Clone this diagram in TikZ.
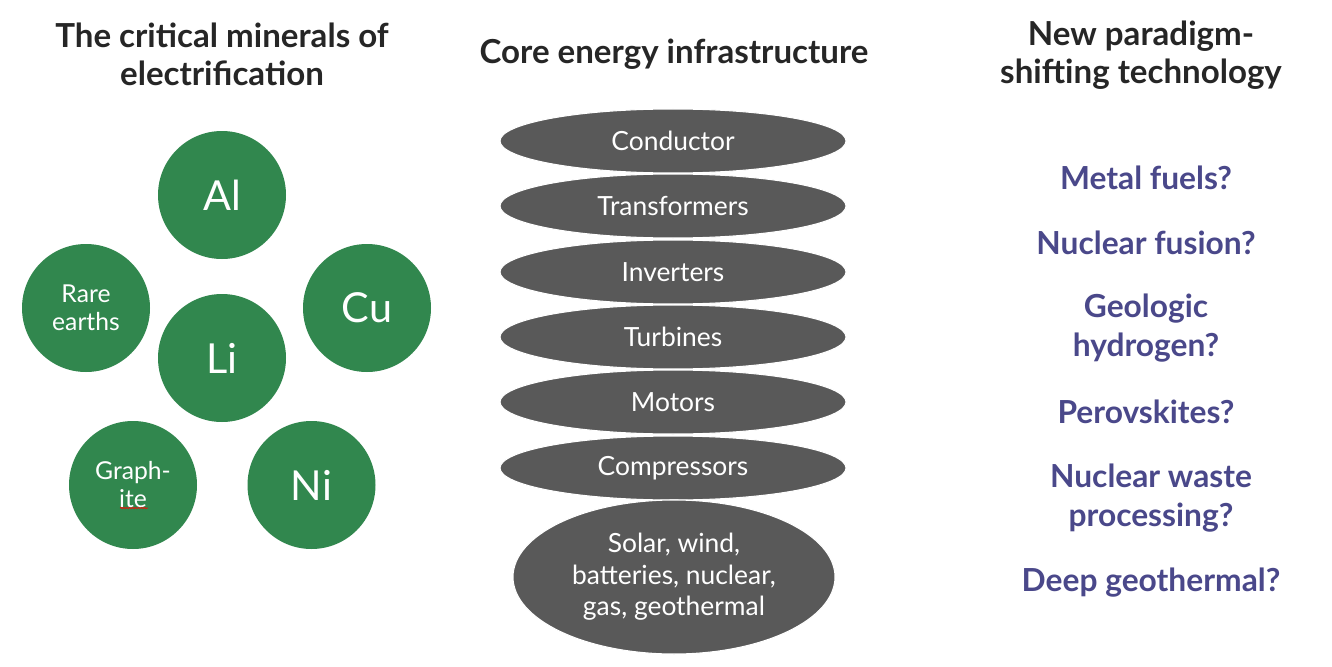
\documentclass[tikz,border=0pt]{standalone}
\usepackage{fontspec}
\setmainfont{Lato}
\usetikzlibrary{shapes.geometric,decorations.pathmorphing}
\definecolor{mingreen}{RGB}{49,135,78}
\definecolor{infragray}{RGB}{89,89,89}
\definecolor{techpurple}{RGB}{74,72,138}
\definecolor{headdark}{RGB}{38,38,38}
\tikzset{
  heading/.style={text=headdark, align=center, font=\bfseries\fontsize{24.8}{28.5}\selectfont, inner sep=0pt},
  mineral/.style={circle, fill=mingreen, minimum size=96pt, inner sep=0pt, text=white, align=center},
  bigsym/.style={mineral, font=\fontsize{31}{36}\selectfont},
  smallsym/.style={mineral, font=\fontsize{18.5}{21}\selectfont},
  infra/.style={ellipse, fill=infragray, draw=white, line width=0.8pt, minimum width=259.5pt, minimum height=48pt, inner sep=0pt, text=white, font=\fontsize{19.8}{23.5}\selectfont, align=center},
  tech/.style={text=techpurple, align=center, font=\bfseries\fontsize{23.8}{29.5}\selectfont, inner sep=0pt}
}
\begin{document}
\begin{tikzpicture}[x=0.75pt,y=-0.75pt]
\useasboundingbox[fill=white] (0,0) rectangle (1332,667);
% headings
\node[heading] (h1) at (222,54) {The critical minerals of\\electrification};
\node[heading] (h2) at (674,54) {Core energy infrastructure};
\node[heading] (h3) at (1141,55) {New paradigm-\\shifting technology};
% minerals
\node[bigsym] (al) at (222,195) {Al};
\node[smallsym] (re) at (86,308) {Rare\\earths};
\node[bigsym] (cu) at (367,308) {Cu};
\node[bigsym] (li) at (222,358) {Li};
\node[smallsym] (gr) at (133,485) {Graph-\\ite};
\node[bigsym] (ni) at (311.5,485) {Ni};
\draw[red, line width=0.5pt, decorate, decoration={snake, amplitude=0.5pt, segment length=2.2pt}] (120,508) -- (148,508);
% infrastructure
\node[infra] (e1) at (673,141) {Conductor};
\node[infra] (e2) at (673,206) {Transformers};
\node[infra] (e3) at (673,272) {Inverters};
\node[infra] (e4) at (673,337) {Turbines};
\node[infra] (e5) at (673,402) {Motors};
\node[infra] (e6) at (673,468) {Compressors};
\node[infra, minimum width=241.5pt, minimum height=115.5pt] (e7) at (674,577) {Solar, wind,\\batteries, nuclear,\\gas, geothermal};
% technology
\node[tech] (t1) at (1146,178) {Metal fuels?};
\node[tech] (t2) at (1146,243) {Nuclear fusion?};
\node[tech] (t3) at (1146,328) {Geologic\\hydrogen?};
\node[tech] (t4) at (1146,412) {Perovskites?};
\node[tech] (t5) at (1151,498) {Nuclear waste\\processing?};
\node[tech] (t6) at (1151,583) {Deep geothermal?};
\end{tikzpicture}
\end{document}
